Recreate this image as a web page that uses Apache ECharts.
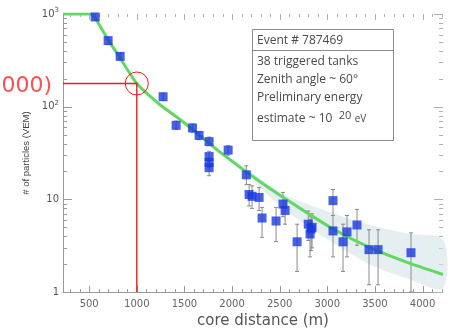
<!DOCTYPE html>
<html>
<head>
<meta charset="utf-8">
<script src="https://cdn.jsdelivr.net/npm/echarts@6/dist/echarts.min.js"></script>
<style>
html,body{margin:0;padding:0;background:#fff;}
#chart{width:450px;height:334px;}
</style>
</head>
<body>
<div id="chart"></div>
<script>
// ---- data ----
var coreDistance = [563, 699, 825, 1276, 1413, 1585, 1654, 1759, 1759, 1759, 1759, 1959, 2150, 2179, 2210, 2284, 2315, 2462, 2535, 2557, 2683, 2800, 2830, 2819, 2840, 3060, 3060, 3165, 3207, 3312, 3438, 3533, 3879];
var particles    = [930, 516, 349, 128, 63, 59, 49, 42, 29, 25, 22, 34, 18.4, 11.3, 10.8, 10.5, 6.3, 5.85, 8.9, 7.6, 3.49, 5.4, 4.8, 4.24, 5.0, 9.7, 4.57, 3.49, 4.46, 5.3, 2.87, 2.87, 2.66];
var errLow       = [850, 470, 320, 118, 57, 53, 44, 38, 26, 22, 18, 30, 14.4, 8.5, 8, 7.6, 3.9, 3.5, 6.5, 5.4, 1.67, 3.6, 2.8, 2.4, 3.0, 6.7, 2.4, 1.67, 2.4, 3.2, 1.2, 1.2, 1.0];
var errHigh      = [1000, 560, 380, 140, 70, 65, 54, 47, 33, 28, 26, 38, 23, 14.5, 14, 13.4, 8.2, 8.2, 11.9, 10, 5.4, 7.5, 6.5, 6.1, 7.0, 12.8, 6.7, 5.4, 6.7, 7.8, 4.7, 4.7, 4.35];

var fitDistance  = [225, 509, 561, 698, 813, 1000, 1244, 1454, 1874, 2294, 2715, 3061, 3450, 3838, 4215];
var fitParticles = [1000, 1000, 906, 529, 349, 178, 105, 72.7, 32.4, 15.5, 8.0, 4.8, 3.01, 2.09, 1.55];

var bandDistance = [1800, 2043, 2536, 3060, 3449, 3837, 4215];
var bandLow      = [35, 23, 8.0, 3.4, 1.98, 1.4, 1.1];
var bandHigh     = [37, 26, 11.5, 7.1, 5.3, 4.3, 3.66];

var s1000 = 178;
var refDistance = 1000;

var xLabelValues = [500, 1000, 1500, 2000, 2500, 3000, 3500, 4000];
var xMinorValues = [300,400,600,700,800,900,1100,1200,1300,1400,1600,1700,1800,1900,2100,2200,2300,2400,2600,2700,2800,2900,3100,3200,3300,3400,3600,3700,3800,3900,4100,4200];
var yMajorValues = [1, 10, 100, 1000];
var yMinorValues = [2,3,4,5,6,7,8,9,20,30,40,50,60,70,80,90,200,300,400,500,600,700,800,900];

var xMin = 225, xMax = 4215;

// ---- chart ----
var chart = echarts.init(document.getElementById('chart'), null, {renderer: 'canvas'});

var pts = coreDistance.map(function (d, i) { return [d, particles[i]]; });
var errs = coreDistance.map(function (d, i) { return [d, errLow[i], errHigh[i]]; });
var fit = fitDistance.map(function (d, i) { return [d, fitParticles[i]]; });
var band = bandDistance.map(function (d, i) { return [d, bandLow[i], bandHigh[i]]; });

// tick marks: [x, y, kind(0=x tick,1=y tick), length]
var ticks = [];
xLabelValues.forEach(function (v) { ticks.push([v, 1, 0, 6]); });
xMinorValues.forEach(function (v) { ticks.push([v, 1, 0, 3]); });
yMajorValues.forEach(function (v) { ticks.push([xMin, v, 1, 9]); });
yMinorValues.forEach(function (v) { ticks.push([xMin, v, 1, 4]); });

var axisGray = '#9a9a9a';
var red = '#f21a1a';
var textGray = '#4a4a4a';

function supLabel(v) {
  v = Math.round(v);
  if (v === 1) return '{b|1}';
  if (v === 10) return '{b|10}';
  if (v === 100) return '{b|10}{s|2}';
  if (v === 1000) return '{b|10}{s|3}';
  return '';
}

var option = {
  animation: false,
  backgroundColor: '#fff',
  grid: {left: 63, right: 7, top: 14, bottom: 38, containLabel: false},
  xAxis: {type: 'value', position: 'bottom', min: xMin, max: xMax,
     name: 'core distance (m)', nameLocation: 'middle', nameGap: 19,
     nameTextStyle: {fontFamily: 'DejaVu Sans', fontSize: 15, color: '#555', padding: [0, 0, 0, 20]},
     axisLine: {show: true, onZero: false, lineStyle: {color: axisGray, width: 1}},
     axisTick: {show: false},
     axisLabel: {show: true, customValues: xLabelValues, fontFamily: 'DejaVu Sans', fontSize: 10, color: '#666', margin: 7,
       formatter: function (v) { return String(Math.round(v)); }},
     splitLine: {show: false}},
  yAxis: {type: 'log', logBase: 10, min: 1, max: 1000, position: 'left',
     name: '# of particles (VEM)', nameLocation: 'middle', nameGap: 28, nameRotate: 90,
     nameTextStyle: {fontFamily: 'Liberation Sans', fontSize: 9.5, color: '#444'},
     axisLine: {show: true, lineStyle: {color: axisGray, width: 1}},
     axisTick: {show: false},
     axisLabel: {show: true, margin: 4, formatter: supLabel,
       rich: {b: {fontFamily: 'DejaVu Sans', fontSize: 10, color: '#555'},
              s: {fontFamily: 'DejaVu Sans', fontSize: 7, color: '#555', padding: [0, 0, 7, 0]}}},
     splitLine: {show: false}},
  series: [
    {type: 'custom', name: 'ticks', data: ticks, z: 1, clip: false, silent: true,
     encode: {x: 0, y: 1},
     renderItem: function (params, api) {
       var cs = params.coordSys;
       var p = api.coord([api.value(0), api.value(1)]);
       var len = api.value(3);
       var st = {stroke: axisGray, lineWidth: 1};
       var st2 = {stroke: '#b0b0b0', lineWidth: 1};
       if (api.value(2) === 0) {
         var x = Math.round(p[0]) + 0.5;
         var yb = cs.y + cs.height, yt = cs.y;
         return {type: 'group', children: [
           {type: 'line', shape: {x1: x, y1: yb, x2: x, y2: yb - len}, style: st},
           {type: 'line', shape: {x1: x, y1: yt, x2: x, y2: yt + len}, style: st2}
         ]};
       }
       var y = Math.round(p[1]) + 0.5;
       var xl = cs.x, xr = cs.x + cs.width;
       return {type: 'group', children: [
         {type: 'line', shape: {x1: xl, y1: y, x2: xl + len, y2: y}, style: st},
         {type: 'line', shape: {x1: xr, y1: y, x2: xr - len, y2: y}, style: st2}
       ]};
     }},
    {type: 'custom', name: 'band', data: band, z: 1,
     encode: {x: 0, y: [1, 2]},
     renderItem: function (params, api) {
       if (params.dataIndex !== 0) return null;
       var up = [], lo = [];
       for (var i = 0; i < band.length; i++) {
         up.push(api.coord([band[i][0], band[i][2]]));
         lo.unshift(api.coord([band[i][0], band[i][1]]));
       }
       return {type: 'polygon', shape: {points: up.concat(lo), smooth: 0.3},
               style: {fill: 'rgba(212,228,231,0.6)', stroke: null}};
     }},
    {type: 'custom', name: 'errors', data: errs, z: 2,
     encode: {x: 0, y: [1, 2]},
     renderItem: function (params, api) {
       var x = api.value(0);
       var a = api.coord([x, api.value(1)]);
       var b = api.coord([x, api.value(2)]);
       var w = 2;
       var st = {stroke: '#8a8a8a', lineWidth: 1};
       return {type: 'group', children: [
         {type: 'line', shape: {x1: a[0], y1: a[1], x2: b[0], y2: b[1]}, style: st},
         {type: 'line', shape: {x1: a[0] - w, y1: a[1], x2: a[0] + w, y2: a[1]}, style: st},
         {type: 'line', shape: {x1: b[0] - w, y1: b[1], x2: b[0] + w, y2: b[1]}, style: st}
       ]};
     }},
    {type: 'line', name: 'fit', data: fit, smooth: 0.2, showSymbol: false, symbol: 'none', z: 3,
     color: '#62d862', lineStyle: {color: '#62d862', width: 3}},
    {type: 'scatter', name: 'tanks', data: pts, symbol: 'rect', symbolSize: 9, z: 4,
     itemStyle: {color: '#1a38de'}},
    {type: 'custom', name: 'S1000 guide', data: [[refDistance, s1000]], z: 6, clip: false,
     encode: {x: 0, y: 1},
     renderItem: function (params, api) {
       var cs = params.coordSys;
       var p = api.coord([api.value(0), api.value(1)]);
       var st = {stroke: red, fill: null, lineWidth: 1.4};
       return {type: 'group', children: [
         {type: 'polyline', shape: {points: [[cs.x, p[1]], [p[0], p[1]], [p[0], cs.y + cs.height]]}, style: st},
         {type: 'circle', shape: {cx: p[0], cy: p[1], r: 11.5}, style: {stroke: red, fill: null, lineWidth: 1}}
       ]};
     }}
  ],
  graphic: [
    {type: 'text', x: 52, y: 86, z: 10,
     style: {text: 'S(1000)', fill: '#ff5050', font: '22px "DejaVu Sans"', align: 'right', verticalAlign: 'middle'}},
    {type: 'rect', shape: {x: 252.5, y: 29.5, width: 141, height: 111}, z: 10,
     style: {fill: '#fff', stroke: '#8c8c8c', lineWidth: 1}},
    {type: 'line', shape: {x1: 252.5, y1: 50.5, x2: 393.5, y2: 50.5}, z: 10,
     style: {stroke: '#8c8c8c', lineWidth: 1}},
    {type: 'text', x: 257, y: 41, z: 11,
     style: {text: 'Event # 787469', fill: textGray, font: '12px "Open Sans"', verticalAlign: 'middle'}},
    {type: 'text', x: 257, y: 62, z: 11,
     style: {text: '38 triggered tanks', fill: textGray, font: '12px "Open Sans"', verticalAlign: 'middle'}},
    {type: 'text', x: 257, y: 80, z: 11,
     style: {text: 'Zenith angle ~ 60°', fill: textGray, font: '12px "Open Sans"', verticalAlign: 'middle'}},
    {type: 'text', x: 257, y: 98, z: 11,
     style: {text: 'Preliminary energy', fill: textGray, font: '12px "Open Sans"', verticalAlign: 'middle'}},
    {type: 'text', x: 257, y: 119, z: 11,
     style: {text: '{n|estimate ~ 10 } {s|20} {e|eV}', verticalAlign: 'middle', fill: textGray,
       rich: {n: {fontFamily: 'Open Sans', fontSize: 12, fill: textGray},
              s: {fontFamily: 'Open Sans', fontSize: 11, fill: textGray, padding: [0, 0, 6, 0]},
              e: {fontFamily: 'Open Sans', fontSize: 10, fill: textGray}}}}
  ]
};
chart.setOption(option);
</script>
</body>
</html>
